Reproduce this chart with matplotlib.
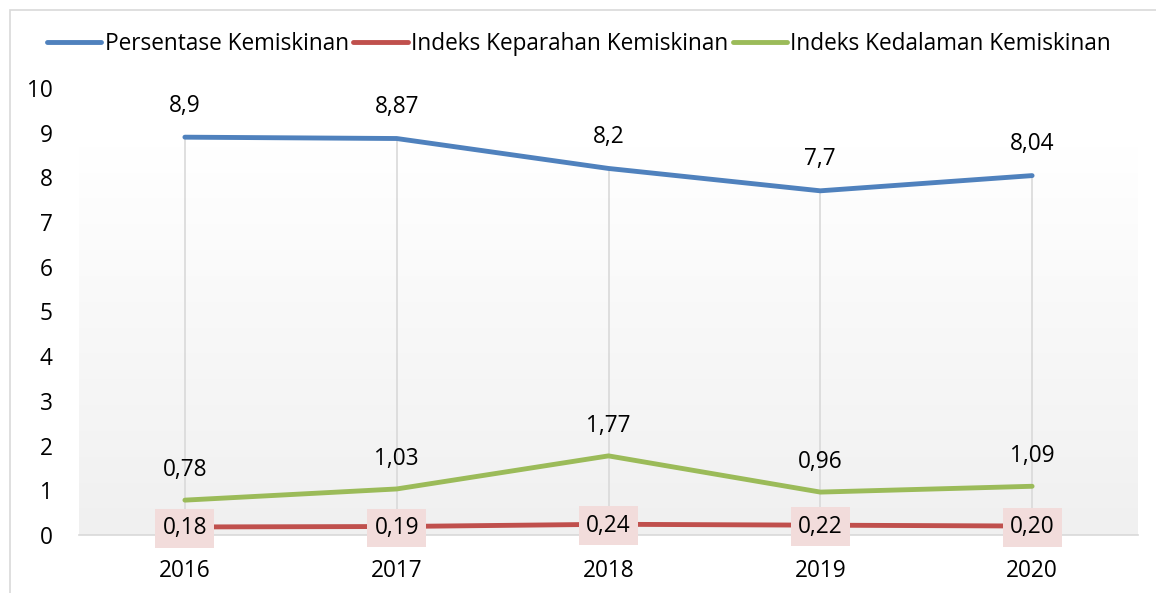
import numpy as np
import matplotlib.pyplot as plt
from matplotlib.patches import Rectangle

plt.rcParams['font.family'] = ['Open Sans', 'DejaVu Sans']

# data
tahun = ['2016', '2017', '2018', '2019', '2020']
persentase = [8.9, 8.87, 8.2, 7.7, 8.04]
keparahan = [0.18, 0.19, 0.24, 0.22, 0.20]
kedalaman = [0.78, 1.03, 1.77, 0.96, 1.09]
label_persen = ['8,9', '8,87', '8,2', '7,7', '8,04']
label_keparahan = ['0,18', '0,19', '0,24', '0,22', '0,20']
label_kedalaman = ['0,78', '1,03', '1,77', '0,96', '1,09']

BLUE = '#4f81bd'
RED = '#c0504d'
GREEN = '#9bbb59'

W, H = 1156, 593
fig = plt.figure(figsize=(W / 100, H / 100), dpi=100)
ax = fig.add_axes([79 / W, (H - 535) / H, (1138 - 79) / W, (535 - 88) / H])

x = np.arange(len(tahun))

# latar gradasi (putih di atas -> abu-abu muda di bawah)
grad = np.linspace(1, 0, 256).reshape(-1, 1)
c_top = np.array([1.0, 1.0, 1.0])
c_bot = np.array([0xf0, 0xf0, 0xf0]) / 255
img = grad[..., None] * c_top + (1 - grad[..., None]) * c_bot
ax.imshow(img, extent=(-0.5, 4.5, 0, 8.7), aspect='auto', zorder=0)

# drop lines
tops = np.max([persentase, keparahan, kedalaman], axis=0)
ax.vlines(x, 0, tops, color='#d9d9d9', lw=1.2, zorder=1)

ax.plot(x, persentase, color=BLUE, lw=3.5, solid_capstyle='round', label='Persentase Kemiskinan', zorder=3)
ax.plot(x, keparahan, color=RED, lw=3.5, solid_capstyle='round', label='Indeks Keparahan Kemiskinan', zorder=3)
ax.plot(x, kedalaman, color=GREEN, lw=3.5, solid_capstyle='round', label='Indeks Kedalaman Kemiskinan', zorder=3)

fs = 16.3
for i in range(len(x)):
    ax.annotate(label_persen[i], (x[i], persentase[i]), xytext=(0, 14), textcoords='offset points',
                ha='center', va='bottom', fontsize=fs, color='#000000')
    ax.annotate(label_kedalaman[i], (x[i], kedalaman[i]), xytext=(0, 13), textcoords='offset points',
                ha='center', va='bottom', fontsize=fs, color='#000000')
    ax.annotate(label_keparahan[i], (x[i], keparahan[i]), xytext=(0, -1), textcoords='offset points',
                ha='center', va='center', fontsize=fs, color='#000000', zorder=5,
                bbox=dict(boxstyle='square,pad=0.32', fc='#f2dcdb', ec='none'))

ax.set_xlim(-0.5, 4.5)
ax.set_ylim(0, 10)
ax.set_xticks(x)
ax.set_xticklabels(tahun)
ax.set_yticks(range(0, 11))
ax.tick_params(axis='both', length=0, labelsize=fs)
ax.tick_params(axis='x', pad=17)
ax.tick_params(axis='y', pad=19)
for s in ['top', 'right', 'left']:
    ax.spines[s].set_visible(False)
ax.spines['bottom'].set_color('#d9d9d9')
ax.spines['bottom'].set_linewidth(1.2)
ax.spines['bottom'].set_zorder(2)

fig.legend(loc='center', bbox_to_anchor=(579 / W, (H - 44) / H), ncol=3, frameon=False,
           fontsize=fs, handlelength=2.4, handletextpad=0.15, columnspacing=0.2)

# bingkai luar chart
fig.patches.append(Rectangle((10 / W, -0.1), 1.2, (H - 10) / H + 0.1, transform=fig.transFigure,
                             fill=False, ec='#d9d9d9', lw=1.2))

fig.savefig('out.png', dpi=100)
